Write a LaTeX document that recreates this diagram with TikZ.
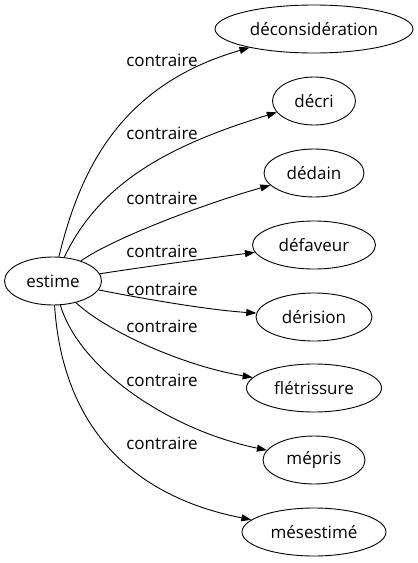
\documentclass[tikz,border=0pt]{standalone}
\usepackage{fontspec}
\setmainfont{Open Sans}
\usetikzlibrary{shapes.geometric,arrows.meta}
\begin{document}
\begin{tikzpicture}[x=1pt,y=-1pt,font=\fontsize{17}{20}\selectfont,
        mot/.style={draw,ellipse,inner sep=0pt,minimum height=48pt,line width=0.9pt},
        lien/.style={-{Triangle[length=10pt,width=7pt]},line width=0.9pt}]
        \useasboundingbox (0,0) rectangle (418,563);
        \node[mot,minimum width=97pt] (estime) at (53,281) {estime};
        \node[mot,minimum width=198pt] (deconsideration) at (314,29) {déconsidération};
        \node[mot,minimum width=83pt] (decri) at (314,101) {décri};
        \node[mot,minimum width=100pt] (dedain) at (314,173) {dédain};
        \node[mot,minimum width=123pt] (defaveur) at (314,245) {défaveur};
        \node[mot,minimum width=116pt] (derision) at (314,317) {dérision};
        \node[mot,minimum width=135pt] (fletrissure) at (314,388) {flétrissure};
        \node[mot,minimum width=102pt] (mepris) at (314,460) {mépris};
        \node[mot,minimum width=144pt] (mesestime) at (314,532) {mésestimé};
        \draw[lien] (estime) .. controls (80,170) and (120,85) .. (deconsideration);
        \draw[lien] (estime) .. controls (100,182) and (170,145) .. (decri);
        \draw[lien] (estime) .. controls (110,240) and (200,205) .. (dedain);
        \draw[lien] (estime) .. controls (150,266) and (210,258) .. (defaveur);
        \draw[lien] (estime) .. controls (150,300) and (210,310) .. (derision);
        \draw[lien] (estime) .. controls (105,330) and (180,365) .. (fletrissure);
        \draw[lien] (estime) .. controls (80,370) and (170,430) .. (mepris);
        \draw[lien] (estime) .. controls (62,420) and (125,495) .. (mesestime);
        \node (l1) at (162,60) {contraire};
        \node (l2) at (162,133) {contraire};
        \node (l3) at (162,198) {contraire};
        \node (l4) at (162,251) {contraire};
        \node (l5) at (162,289) {contraire};
        \node (l6) at (162,326) {contraire};
        \node (l7) at (162,380) {contraire};
        \node (l8) at (162,443) {contraire};
    \end{tikzpicture}
\end{document}
